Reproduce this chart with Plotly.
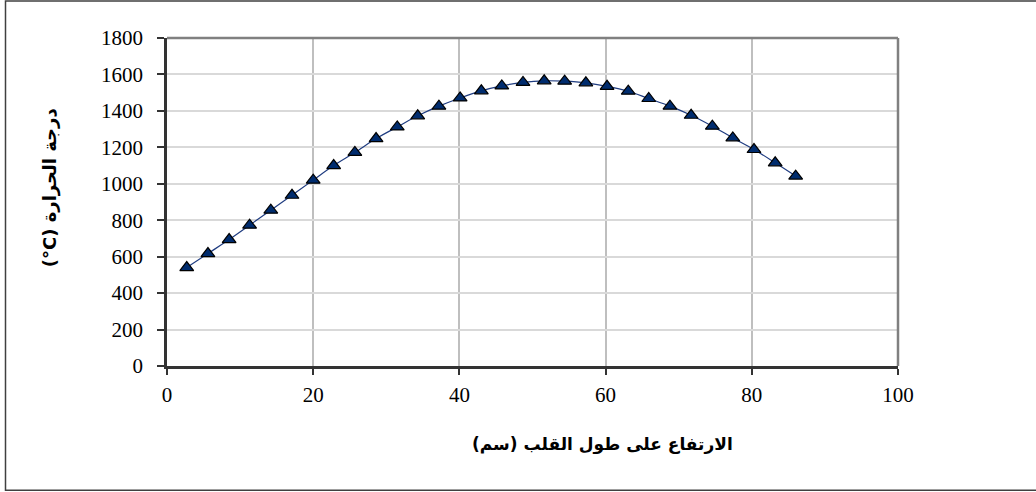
import plotly.graph_objects as go

height_cm = [2.7, 5.6, 8.5, 11.3, 14.2, 17.1, 20.0, 22.8, 25.7, 28.6, 31.5, 34.3, 37.2, 40.1, 43.0,
             45.8, 48.7, 51.6, 54.4, 57.3, 60.2, 63.1, 65.9, 68.8, 71.7, 74.6, 77.4, 80.3, 83.2, 86.0]
temperature_c = [540, 617, 694, 773, 855, 937, 1020, 1100, 1172, 1248, 1312, 1373, 1426, 1471, 1510,
                 1537, 1556, 1565, 1563, 1554, 1535, 1508, 1468, 1426, 1376, 1316, 1252, 1188, 1115, 1042]
x_ticks = [0, 20, 40, 60, 80, 100]
y_ticks = [0, 200, 400, 600, 800, 1000, 1200, 1400, 1600, 1800]

x_title = "الارتفاع على طول القلب (سم)"
y_title = "(°C) درجة الحرارة"

fig = go.Figure()
fig.add_trace(go.Scatter(
    x=height_cm, y=temperature_c, mode="lines+markers",
    line=dict(color="#1f3c80", width=1.2, shape="spline"),
    marker=dict(symbol="triangle-up", size=12, color="#002c6e",
                line=dict(color="#000000", width=1.2)),
    showlegend=False,
))

W, H = 1036, 492
L, R, T, B = 167, 898, 37.5, 366
PW, PH = R - L, B - T

def px_x(px):
    return (px - L) / PW

def px_y(py):
    return (B - py) / PH

fig.update_layout(
    width=W, height=H,
    margin=dict(l=L, r=W - R, t=T, b=H - B, pad=0),
    paper_bgcolor="white", plot_bgcolor="white",
    font=dict(family="Liberation Serif, Times New Roman, serif", size=21, color="#000000"),
    xaxis=dict(
        range=[0, 100], tickvals=x_ticks, ticks="outside", ticklen=6, tickwidth=1.5,
        tickcolor="#333333", showline=True, linecolor="#333333", linewidth=2.5,
        showgrid=True, gridcolor="#bfbfbf", gridwidth=2, zeroline=False,
        tickfont=dict(size=21), ticklabelstandoff=2,
    ),
    yaxis=dict(
        range=[0, 1800], tickvals=y_ticks, ticks="outside", ticklen=7, tickwidth=1.5,
        tickcolor="#333333", showline=True, linecolor="#333333", linewidth=2.5,
        showgrid=True, gridcolor="#d9d9d9", gridwidth=1.5, zeroline=False,
        tickfont=dict(size=21), ticklabelstandoff=10,
    ),
    annotations=[
        dict(text="<b>" + x_title + "</b>", xref="paper", yref="paper",
             x=px_x(602), y=px_y(445), xanchor="center", yanchor="middle",
             showarrow=False,
             font=dict(family="DejaVu Sans, Arial, sans-serif", size=17, color="#000000")),
        dict(text="<b>" + y_title + "</b>", xref="paper", yref="paper",
             x=px_x(50), y=px_y(187), xanchor="center", yanchor="middle",
             textangle=-90, showarrow=False,
             font=dict(family="DejaVu Sans, Arial, sans-serif", size=18, color="#000000")),
    ],
    shapes=[
        dict(type="line", xref="paper", yref="paper", x0=0, x1=1, y0=1, y1=1,
             line=dict(color="#808080", width=2.5)),
        dict(type="line", xref="paper", yref="paper", x0=1, x1=1, y0=0, y1=1,
             line=dict(color="#808080", width=2.5)),
        dict(type="rect", xref="paper", yref="paper",
             x0=px_x(5.5), x1=px_x(1045), y0=px_y(490.5), y1=px_y(0.5),
             line=dict(color="#404040", width=1.5), fillcolor="rgba(0,0,0,0)", layer="below"),
    ],
)

fig.write_html("out.html", config={"displayModeBar": False},
               post_script="document.body.style.margin='0';document.body.style.padding='0';")
